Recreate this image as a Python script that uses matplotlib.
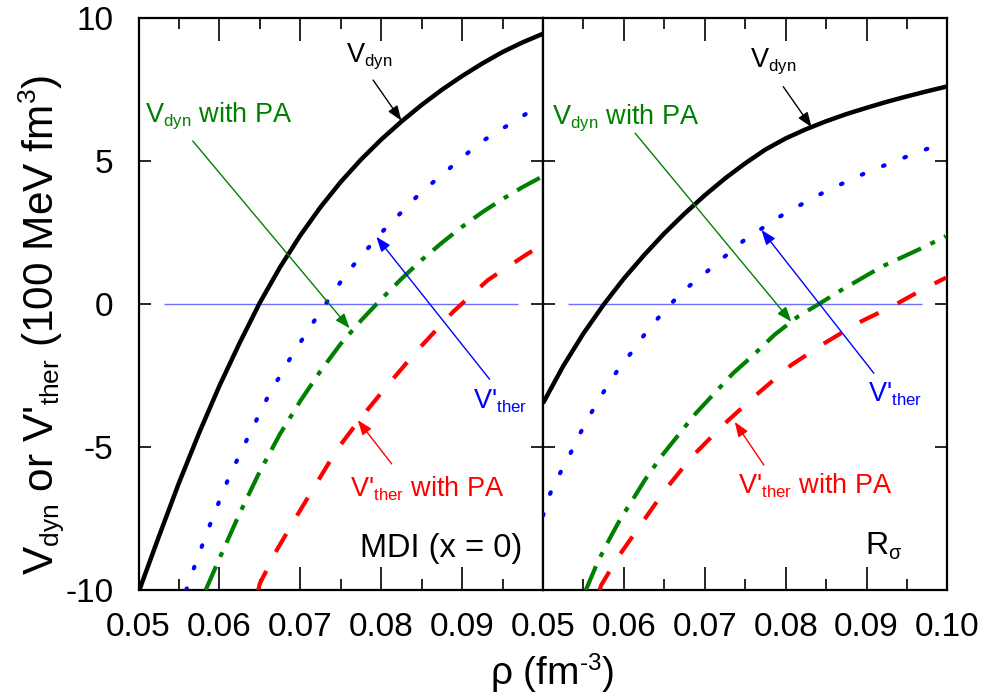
import numpy as np
import matplotlib
matplotlib.use('Agg')
import matplotlib.pyplot as plt
import matplotlib._mathtext as mathtext_internals
from matplotlib.ticker import MultipleLocator

plt.rcParams['font.family'] = ['Liberation Sans', 'DejaVu Sans']
plt.rcParams['mathtext.fontset'] = 'custom'
plt.rcParams['mathtext.rm'] = 'Liberation Sans'
plt.rcParams['mathtext.it'] = 'Liberation Sans:italic'
plt.rcParams['axes.unicode_minus'] = False
# the original uses smaller sub/superscripts than mathtext's default 0.7
mathtext_internals.SHRINK_FACTOR = 0.62

# --- Left panel: MDI (x = 0) ---
mdi_dyn_x = [0.0501, 0.0525, 0.0550, 0.0575, 0.0600, 0.0625, 0.0650, 0.0675,
             0.0700, 0.0725, 0.0750, 0.0775, 0.0800, 0.0825, 0.0850, 0.0875,
             0.0900, 0.0925, 0.0950, 0.0975, 0.1000]
mdi_dyn_y = [-10.0, -8.14, -6.25, -4.50, -2.86, -1.36, 0.05, 1.29,
             2.40, 3.39, 4.27, 5.05, 5.75, 6.38, 6.96, 7.49,
             7.97, 8.41, 8.81, 9.15, 9.45]

mdi_ther_x = [0.0559, 0.0564, 0.0573, 0.0592, 0.0612, 0.0636, 0.0661, 0.0690,
              0.0722, 0.0757, 0.0800, 0.0848, 0.0922, 0.0998]
mdi_ther_y = [-10.0, -9.59, -8.87, -7.44, -6.04, -4.62, -3.18, -1.78,
              -0.38, 1.07, 2.49, 3.87, 5.64, 6.98]

mdi_dyn_pa_x = [0.0583, 0.0600, 0.0625, 0.0650, 0.0675, 0.0700, 0.0725, 0.0750,
                0.0775, 0.0800, 0.0825, 0.0850, 0.0875, 0.0900, 0.0925, 0.0950,
                0.0975, 0.1000]
mdi_dyn_pa_y = [-10.0, -8.90, -7.32, -5.85, -4.54, -3.39, -2.34, -1.39,
                -0.58, 0.17, 0.88, 1.54, 2.14, 2.70, 3.21, 3.67,
                4.09, 4.47]

mdi_ther_pa_x = [0.0648, 0.0650, 0.0671, 0.0695, 0.0720, 0.0745, 0.0776,
                 0.0810, 0.0845, 0.0889, 0.0932, 0.0979, 0.0998]
mdi_ther_pa_y = [-10.0, -9.77, -8.60, -7.44, -6.27, -5.10, -3.94,
                 -2.77, -1.61, -0.27, 0.84, 1.72, 2.05]

# --- Right panel: R_sigma ---
rs_dyn_x = [0.0500, 0.0525, 0.0550, 0.0575, 0.0600, 0.0625, 0.0650, 0.0675,
            0.0700, 0.0725, 0.0750, 0.0775, 0.0800, 0.0825, 0.0850, 0.0875,
            0.0900, 0.0925, 0.0950, 0.0975, 0.1000]
rs_dyn_y = [-3.47, -2.17, -1.03, -0.02, 0.89, 1.71, 2.47, 3.16,
            3.80, 4.39, 4.92, 5.40, 5.79, 6.11, 6.39, 6.64,
            6.86, 7.07, 7.26, 7.44, 7.61]

rs_ther_x = [0.0500, 0.0509, 0.0521, 0.0534, 0.0546, 0.0560, 0.0575, 0.0591,
             0.0610, 0.0628, 0.0649, 0.0673, 0.0700, 0.0749, 0.0799, 0.0850,
             0.0900, 0.0951, 0.0998]
rs_ther_y = [-7.40, -6.62, -5.92, -5.22, -4.52, -3.79, -3.07, -2.37,
             -1.67, -0.97, -0.27, 0.45, 1.07, 2.24, 3.17, 3.95,
             4.60, 5.17, 5.67]

rs_dyn_pa_x = [0.0553, 0.0568, 0.0581, 0.0595, 0.0612, 0.0626, 0.0647, 0.0664,
               0.0688, 0.0708, 0.0735, 0.0758, 0.0786, 0.0815, 0.0841, 0.0869,
               0.0919, 0.0968, 0.0998]
rs_dyn_pa_y = [-10.0, -9.00, -8.28, -7.55, -6.79, -6.15, -5.30, -4.70,
               -3.85, -3.24, -2.42, -1.84, -1.08, -0.44, 0.0, 0.49,
               1.31, 1.95, 2.37]

rs_ther_pa_x = [0.0570, 0.0572, 0.0593, 0.0622, 0.0651, 0.0684, 0.0725, 0.0766,
                0.0807, 0.0848, 0.0889, 0.0935, 0.0968, 0.0998]
rs_ther_pa_y = [-10.0, -9.83, -8.84, -7.67, -6.50, -5.34, -4.17, -3.12,
                -2.13, -1.37, -0.67, -0.03, 0.49, 0.92]

zero_line_x = [0.0531, 0.0969]

xticks = [0.05, 0.06, 0.07, 0.08, 0.09, 0.10]
xticklabels = ['0.05', '0.06', '0.07', '0.08', '0.09', '0.10']
yticks = [-10, -5, 0, 5, 10]
yticklabels = ['-10', '-5', '0', '5', '10']

lab_dyn = 'V$_{\\mathrm{dyn}}$'
lab_dyn_pa = 'V$_{\\mathrm{dyn}}$ with PA'
lab_ther = "V'$_{\\mathrm{ther}}$"
lab_ther_pa = "V'$_{\\mathrm{ther}}$ with PA"

# annotation layout: (text, text_xy, arrow_from, arrow_to, colour)
left_notes = [
    (lab_dyn, (0.0757, 8.47), (0.0790, 7.83), (0.0825, 6.41), 'black'),
    (lab_dyn_pa, (0.0508, 6.37), (0.0567, 5.70), (0.0761, -0.85), 'green'),
    (lab_ther, (0.0913, -3.64), (0.0934, -2.63), (0.0794, 2.35), 'blue'),
    (lab_ther_pa, (0.0761, -6.74), (0.0813, -5.59), (0.0771, -4.06), 'red'),
]
right_notes = [
    (lab_dyn, (0.0756, 8.30), (0.0797, 7.60), (0.0832, 6.18), 'black'),
    (lab_dyn_pa, (0.0511, 6.32), (0.0614, 5.97), (0.0807, -0.62), 'green'),
    (lab_ther, (0.0902, -3.42), (0.0909, -2.42), (0.0770, 2.59), 'blue'),
    (lab_ther_pa, (0.0741, -6.62), (0.0773, -5.63), (0.0737, -4.12), 'red'),
]

fig = plt.figure(figsize=(9.84, 7.0), dpi=100)
ax1 = fig.add_axes([0.1408, 0.1571, 0.4110, 0.8172])
ax2 = fig.add_axes([0.5518, 0.1571, 0.4111, 0.8172])


def draw_panel(ax, dyn, ther, dyn_pa, ther_pa, notes):
    ax.hlines(0, zero_line_x[0], zero_line_x[1], color='#6e6eff', lw=1.0, zorder=1)
    ax.plot(*dyn, color='black', lw=3.2, solid_capstyle='butt',
            solid_joinstyle='round', zorder=3)
    ax.plot(*ther, color='blue', lw=3.0, dashes=(0.4, 5.1),
            dash_capstyle='round', zorder=3)
    ax.plot(*dyn_pa, color='green', lw=3.0, dashes=(6.2, 2.5, 1.2, 2.5), zorder=3)
    ax.plot(*ther_pa, color='red', lw=3.0, dashes=(5.0, 5.1), zorder=3)

    for txt, xy, a_from, a_to, col in notes:
        ax.text(xy[0], xy[1], txt, color=col, fontsize=19.5,
                ha='left', va='baseline')
        ax.annotate('', xy=a_to, xytext=a_from,
                    arrowprops=dict(arrowstyle='-|>,head_length=0.75,head_width=0.28',
                                    color=col, lw=1.0, mutation_scale=12,
                                    shrinkA=0, shrinkB=0))

    ax.set_xlim(0.05, 0.10)
    ax.set_ylim(-10, 10)
    ax.set_xticks(xticks)
    ax.xaxis.set_minor_locator(MultipleLocator(0.005))
    ax.set_yticks(yticks)
    ax.tick_params(axis='x', which='major', direction='in', top=True, bottom=True,
                   length=16.5, width=1.2, labelsize=24, pad=16)
    ax.tick_params(axis='x', which='minor', direction='in', top=True, bottom=True,
                   length=8, width=1.2)
    ax.tick_params(axis='y', which='major', direction='in', left=True, right=True,
                   length=8.6, width=1.2, labelsize=24, pad=18)
    for s in ax.spines.values():
        s.set_linewidth(1.6)


draw_panel(ax1, (mdi_dyn_x, mdi_dyn_y), (mdi_ther_x, mdi_ther_y),
           (mdi_dyn_pa_x, mdi_dyn_pa_y), (mdi_ther_pa_x, mdi_ther_pa_y), left_notes)
draw_panel(ax2, (rs_dyn_x, rs_dyn_y), (rs_ther_x, rs_ther_y),
           (rs_dyn_pa_x, rs_dyn_pa_y), (rs_ther_pa_x, rs_ther_pa_y), right_notes)

ax1.set_xticklabels(xticklabels[:-1] + [''])
ax2.set_xticklabels(xticklabels)
ax1.set_yticklabels(yticklabels)
ax2.set_yticklabels([])

ax1.text(0.0975, -8.85, 'MDI (x = 0)', fontsize=23.5, ha='right', va='baseline')
ax2.text(0.0898, -8.78, 'R$_{\\mathrm{σ}}$', fontsize=23, ha='left', va='baseline')

fig.text(0.043, 0.536, "V$_{\\mathrm{dyn}}$ or V'$_{\\mathrm{ther}}$ (100 MeV fm$^{\\mathrm{3}}$)",
         rotation=90, ha='center', va='center', fontsize=30.5)
fig.text(0.561, 0.038, 'ρ (fm$^{\\mathrm{‐3}}$)', ha='center', va='center', fontsize=28)

plt.savefig('out.png', dpi=100)
